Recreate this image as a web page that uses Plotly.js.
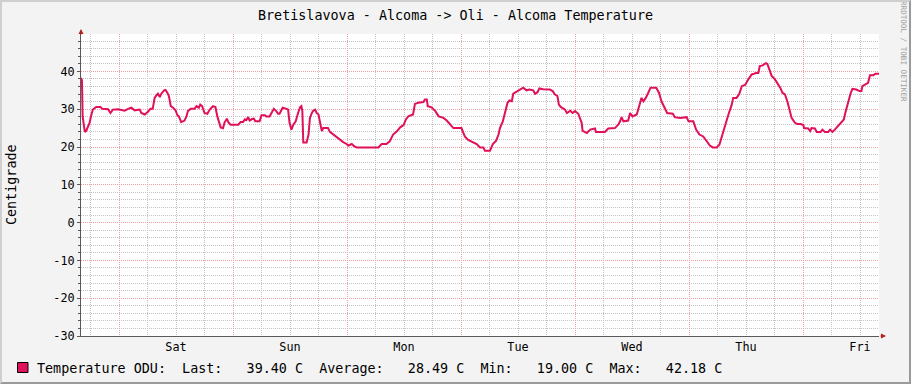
<!DOCTYPE html>
<html><head><meta charset="utf-8">
<script src="https://cdn.plot.ly/plotly-3.0.1.min.js"></script>
<style>
html,body{margin:0;padding:0;background:#f3f3f3;overflow:hidden;}
#wrap{width:907px;height:380px;border-top:2px solid #cfcfcf;border-left:2px solid #cfcfcf;border-right:2px solid #9a9a9a;border-bottom:2px solid #9a9a9a;}
#chart{width:907px;height:380px;}
</style></head><body><div id="wrap"><div id="chart"></div></div>
<script>
// hours since start of the week window (Fri 16:00)
const hours = [0.0,0.2,0.35,0.8,1.1,1.5,1.8,2.2,2.5,3.2,4.1,4.5,5.7,6.2,6.7,7.8,9.2,9.9,10.6,11.3,11.9,12.35,12.7,13.4,14.1,14.6,15.1,15.5,15.9,16.2,16.6,16.9,17.5,17.8,18.2,18.5,18.9,19.4,19.9,20.3,20.6,21.1,21.8,22.2,22.5,23.1,23.9,24.3,24.8,25.1,25.5,26.0,26.6,27.1,27.8,28.3,28.7,29.0,29.4,29.9,30.2,30.7,31.1,31.5,33.1,33.6,34.1,34.5,34.8,35.2,35.5,36.0,36.4,36.7,37.6,38.0,38.7,39.0,39.7,40.1,40.6,41.1,41.5,41.8,42.45,43.3,43.6,43.9,44.3,44.7,45.2,45.7,46.1,46.4,46.6,46.8,47.5,47.9,48.2,48.6,48.9,49.3,49.6,50.0,50.3,50.7,51.0,52.0,52.4,53.1,53.8,54.5,55.2,55.9,56.3,57.0,57.5,58.0,60.1,62.6,63.3,64.3,65.0,65.7,66.4,67.2,67.9,68.4,68.9,69.9,70.3,71.0,72.1,72.4,72.8,73.0,73.8,74.6,75.3,76.3,77.0,77.7,78.4,80.1,80.8,81.5,82.6,83.3,84.0,84.7,85.05,86.1,86.7,87.4,87.9,88.2,88.8,89.3,89.8,90.2,90.7,91.0,91.6,92.3,93.1,93.8,94.4,95.2,95.6,96.1,96.5,97.3,98.0,98.7,99.3,99.8,100.3,100.6,101.0,101.9,102.3,103.0,103.5,104.0,104.7,105.4,105.6,106.5,107.2,108.2,108.4,110.3,111.0,112.4,113.1,113.5,113.8,114.2,115.2,115.6,116.1,117.0,117.5,118.0,118.4,118.9,119.4,119.9,121.1,121.7,122.2,122.9,123.4,124.6,125.0,126.1,126.8,127.5,127.9,128.9,129.5,130.2,131.0,131.7,132.4,133.0,133.8,134.4,134.9,135.6,136.3,137.0,137.3,138.0,138.6,139.1,139.8,140.5,141.2,141.7,142.1,142.6,142.9,143.5,144.2,144.5,144.9,145.4,146.1,146.6,147.2,147.7,148.2,148.7,149.1,149.6,150.3,150.8,151.5,152.1,152.2,153.1,153.5,153.8,154.5,154.9,155.7,156.1,156.6,157.3,157.7,158.2,158.7,159.4,160.1,160.6,160.9,161.5,162.0,162.4,163.2,163.9,164.3,164.5,165.2,165.7,166.1,166.8,167.3,168.0];
const temps = [38.3,37.6,28.1,24.0,24.3,25.4,26.4,28.6,29.9,30.6,30.6,30.1,30.0,29.0,29.9,30.0,29.6,30.1,30.4,29.7,29.9,29.9,29.0,28.6,29.3,30.1,30.1,33.0,33.7,34.1,33.2,34.1,35.0,35.1,34.3,33.5,30.8,30.4,29.7,28.4,28.1,26.6,27.0,28.1,29.5,30.1,30.1,30.8,30.4,31.2,30.8,29.0,28.8,29.9,30.8,30.6,28.1,26.8,25.2,25.0,26.4,27.5,26.4,25.9,25.9,26.6,26.6,27.3,27.1,27.9,27.0,27.4,27.5,26.8,26.8,28.4,28.4,28.1,28.1,29.0,30.1,29.5,28.8,28.8,30.4,30.1,29.9,26.4,24.6,25.9,26.8,29.0,30.5,30.8,29.5,21.2,21.2,23.3,27.7,29.0,29.6,29.9,29.0,28.6,26.4,24.2,25.0,25.0,24.0,23.3,22.8,21.9,21.3,20.8,20.4,20.8,20.2,19.9,19.9,19.9,20.8,20.8,21.5,23.3,24.0,25.2,25.8,27.3,28.1,28.6,31.4,31.7,31.9,32.6,32.6,30.8,30.5,29.5,28.1,27.7,27.0,25.9,25.0,25.0,22.8,21.9,21.1,20.8,19.9,19.9,19.0,19.0,20.8,21.7,23.3,25.0,26.8,29.5,31.7,32.3,32.1,34.1,34.6,35.0,35.7,35.0,35.2,35.0,34.1,34.5,35.5,35.3,35.2,35.2,34.8,33.9,33.5,31.2,30.6,29.9,29.0,29.6,29.0,29.5,28.8,26.4,24.3,23.7,24.6,24.9,24.0,24.0,24.9,25.0,25.9,26.8,27.9,26.8,27.0,29.0,28.1,28.6,30.8,33.0,32.1,33.0,34.3,35.7,35.7,34.3,32.1,30.4,29.0,28.8,27.9,27.7,27.9,27.9,26.8,26.8,24.6,23.3,22.8,21.5,20.4,19.9,19.9,20.6,22.8,25.5,28.6,31.2,33.0,33.0,34.1,36.1,36.4,37.9,39.2,39.4,39.6,39.6,41.4,41.6,42.18,42.0,40.5,38.8,37.9,37.0,35.7,34.3,33.9,32.1,29.9,27.7,26.4,26.1,26.1,25.8,25.0,24.9,24.2,25.0,24.9,24.0,24.0,24.6,24.0,24.0,24.6,24.0,24.6,25.5,26.4,27.3,29.0,32.1,34.1,35.4,35.2,34.8,34.8,36.1,36.5,37.0,39.0,39.0,39.4,39.4];

const dayNames = ['Sat','Sun','Mon','Tue','Wed','Thu','Fri'];
const dayNoon = [20,44,68,92,116,140,164];
const dayMidnight = [8,32,56,80,104,128,152];
const yTicks = [-30,-20,-10,0,10,20,30,40];
const seriesName = 'Temperature ODU:';
const statLabels = ['Last:','Average:','Min:','Max:'];
const statValues = [39.40,28.49,19.00,42.18];
const unit = 'C';

// 6-hour grid positions (axis structure, derived from the range)
const sixHour = [];
for (let h = 2; h < 168; h += 6) sixHour.push(h);
const yMinor = [];
for (let v = -30; v < 50; v += 2) yMinor.push(v);

const FONT = 'DejaVu Sans Mono';
const LINE = '#e0105a';
const MAJ = '#f2a0a0';
const MIN = '#c4c4c4';
const AX = '#5a5a5a';
const DASH = '1px,1px';

let legendText = seriesName + '  ' + statLabels.map((l,i)=>{
  const v = statValues[i].toFixed(2);
  return l + ' '.repeat(8 - v.length) + v + ' ' + unit;
}).join('  ');
legendText = legendText.replace(/ /g,'\u00A0');

const W = 907, H = 380, L = 79, R = 30, T = 32, B = 46;
const pw = W - L - R, ph = H - T - B;
const px = v => (v - L) / pw;
const py = v => (H - B - v) / ph;

const traces = [
  {x: hours, y: temps, type:'scatter', mode:'lines', line:{color:LINE, width:2}, hoverinfo:'skip', showlegend:false},
  {x: [], y: [], xaxis:'x2', type:'scatter', mode:'lines', showlegend:false, hoverinfo:'skip'}
];

const layout = {
  width: W, height: H,
  margin: {l:L, r:R, t:T, b:B, pad:0},
  paper_bgcolor: '#f3f3f3',
  plot_bgcolor: '#ffffff',
  showlegend: false,
  font: {family: FONT, color:'#000'},
  title: {text:'Bretislavova - Alcoma -> Oli - Alcoma Temperature', font:{family:FONT, size:13.4, color:'#000'},
          x:0.5, xref:'container', xanchor:'center', y:1-13/H, yref:'container', yanchor:'middle'},
  xaxis: {
    range:[0,168], tickmode:'array', tickvals: dayNoon, ticktext: dayNames,
    showgrid:true, gridcolor:MIN, griddash:DASH, gridwidth:1,
    ticks:'', showline:true, linecolor:AX, linewidth:1, zeroline:false,
    tickfont:{family:FONT, size:11.8, color:'#000'}, fixedrange:true,
    minor:{tickmode:'array', tickvals: sixHour, showgrid:true, gridcolor:MIN, griddash:DASH, gridwidth:1, ticks:''}
  },
  xaxis2: {
    overlaying:'x', anchor:'y', side:'bottom', range:[0,168], tickmode:'array', tickvals: dayMidnight,
    showticklabels:false, showgrid:true, gridcolor:MAJ, griddash:DASH, gridwidth:1,
    ticks:'', showline:false, zeroline:false, fixedrange:true
  },
  yaxis: {
    range:[-30,49.9], tickmode:'array', tickvals: yTicks, ticktext: yTicks.map(String),
    showgrid:true, gridcolor:MAJ, griddash:DASH, gridwidth:1,
    ticks:'outside', ticklen:3, tickcolor:AX, showline:true, linecolor:AX, linewidth:1, zeroline:false,
    tickfont:{family:FONT, size:11.8, color:'#000'}, fixedrange:true,
    minor:{tickmode:'array', tickvals: yMinor, showgrid:true, gridcolor:MIN, griddash:DASH, gridwidth:1, ticks:'outside', ticklen:2, tickcolor:AX}
  },
  shapes: [
    {type:'rect', xref:'paper', yref:'paper', x0:px(15.5), x1:px(26), y0:py(360.5), y1:py(370.5),
     fillcolor:LINE, line:{color:'#000', width:1}}
  ],
  annotations: [
    {xref:'paper', yref:'paper', x:px(33), y:py(366.5), xanchor:'left', yanchor:'middle', showarrow:false,
     text: legendText, font:{family:FONT, size:13.4, color:'#000'}},
    {xref:'paper', yref:'paper', x:px(9), y:0.5, xanchor:'center', yanchor:'middle', showarrow:false,
     textangle:-90, text:'Centigrade', font:{family:FONT, size:13.4, color:'#000'}},
    {xref:'paper', yref:'paper', x:px(901), y:py(49), xanchor:'center', yanchor:'middle', showarrow:false,
     textangle:90, text:'RRDTOOL / TOBI OETIKER', font:{family:FONT, size:7.6, color:'#a0a0a0'}},
    {xref:'paper', yref:'paper', x:px(884), y:0, ax:-7, ay:0, showarrow:true, arrowhead:2, arrowsize:1,
     arrowwidth:1, arrowcolor:'#b02020', text:''},
    {xref:'paper', yref:'paper', x:0, y:py(27), ax:0, ay:7, showarrow:true, arrowhead:2, arrowsize:1,
     arrowwidth:1, arrowcolor:'#b02020', text:''}
  ]
};

Plotly.newPlot('chart', traces, layout, {staticPlot:true, displayModeBar:false});
</script>
</body></html>
